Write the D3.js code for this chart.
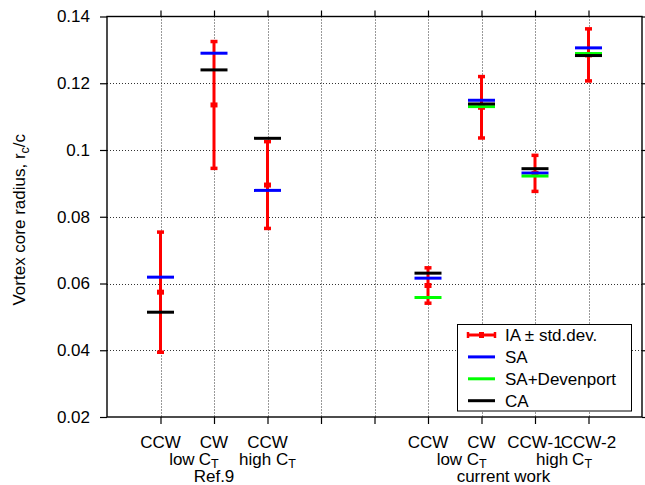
<!DOCTYPE html>
<html>
<head>
<meta charset="utf-8">
<script src="https://cdn.jsdelivr.net/npm/d3@7"></script>
<style>
  html, body { margin: 0; padding: 0; background: #fff; }
  svg { display: block; }
  text { font-family: "Liberation Sans", Arial, Helvetica, sans-serif; fill: #000; }
</style>
</head>
<body>
<svg id="chart" width="645" height="485"></svg>
<script>
// Case slots along the x axis (Ref.9 cases at 1-3, current work at 6-9)
const casePositions = [1, 2, 3, 6, 7, 8, 9];

// Vortex core radius r_c/c per case
const iaMean   = [0.0574, 0.1135, 0.0895, 0.0594, 0.1128, 0.0930, 0.1285];
const iaStd    = [0.0180, 0.0190, 0.0130, 0.0053, 0.0092, 0.0054, 0.0078];
const saValues    = [0.0619, 0.1290, 0.0879, 0.0616, 0.1149, 0.0931, 0.1306];
const saDevValues = [null, null, null, 0.0558, 0.1130, 0.0922, 0.1289];
const caValues    = [0.0514, 0.1240, 0.1035, 0.0631, 0.1138, 0.0944, 0.1283];

// Axis ticks
const xTickValues = [1, 2, 3, 4, 5, 6, 7, 8, 9];
const yTickValues = [0.02, 0.04, 0.06, 0.08, 0.10, 0.12, 0.14];
const yTickLabels = ["0.02", "0.04", "0.06", "0.08", "0.1", "0.12", "0.14"];

// Category label lines under the axis (sub = subscript part)
const labelRow1 = [
  { text: "CCW", at: 1 }, { text: "CW", at: 2 }, { text: "CCW", at: 3 },
  { text: "CCW", at: 6 }, { text: "CW", at: 7 }, { text: "CCW-1", at: 8 }, { text: "CCW-2", at: 9 }
];
const labelRow2 = [
  { text: "low", at: 1.4 }, { text: "C", sub: "T", at: 1.9 }, { text: "high C", sub: "T", at: 3 },
  { text: "low", at: 6.4 }, { text: "C", sub: "T", at: 6.91 },
  { text: "high", at: 8.32 }, { text: "C", sub: "T", at: 8.88 }
];
const labelRow3 = [
  { text: "Ref.9", at: 2 }, { text: "current  work", at: 7.41 }
];

const legendItems = [
  { label: "IA \u00b1 std.dev.", color: "#ff0000", kind: "errbar" },
  { label: "SA", color: "#0000ff", kind: "line" },
  { label: "SA+Devenport", color: "#00ff00", kind: "line" },
  { label: "CA", color: "#000000", kind: "line" }
];

const svg = d3.select("#chart");
const plot = { left: 107, right: 642, top: 16.5, bottom: 417 };
const fontSize = 17;

const x = d3.scaleLinear().domain([0, 10]).range([plot.left, plot.right]);
const y = d3.scaleLinear().domain([0.02, 0.14]).range([plot.bottom, plot.top]);

// Dotted grid
const grid = svg.append("g").attr("stroke", "#333").attr("stroke-width", 1)
  .attr("stroke-dasharray", "1,2");
grid.selectAll("line.gx").data(xTickValues).join("line")
  .attr("x1", d => Math.round(x(d)) + 0.5).attr("x2", d => Math.round(x(d)) + 0.5)
  .attr("y1", plot.top).attr("y2", plot.bottom);
grid.selectAll("line.gy").data(yTickValues.slice(1, -1)).join("line")
  .attr("y1", d => Math.round(y(d)) + 0.5).attr("y2", d => Math.round(y(d)) + 0.5)
  .attr("x1", plot.left).attr("x2", plot.right);

// Axes with outward ticks on all four sides
function styleAxis(g) {
  g.select(".domain").remove();
  g.selectAll(".tick line").attr("stroke", "#000").attr("stroke-width", 1.2);
  g.selectAll(".tick text").style("font-size", fontSize + "px")
    .style("font-family", '"Liberation Sans", Arial, sans-serif').attr("fill", "#000");
}
svg.append("g").attr("transform", `translate(${plot.left},0)`)
  .call(d3.axisLeft(y).tickValues(yTickValues).tickSize(7).tickPadding(10)
    .tickFormat((d, i) => yTickLabels[i]))
  .call(styleAxis);
svg.append("g").attr("transform", `translate(${plot.right},0)`)
  .call(d3.axisRight(y).tickValues(yTickValues).tickSize(6).tickFormat(""))
  .call(styleAxis);
svg.append("g").attr("transform", `translate(0,${plot.bottom})`)
  .call(d3.axisBottom(x).tickValues(xTickValues).tickSize(7).tickFormat(""))
  .call(styleAxis);
svg.append("g").attr("transform", `translate(0,${plot.top})`)
  .call(d3.axisTop(x).tickValues(xTickValues).tickSize(6).tickFormat(""))
  .call(styleAxis);

// Frame
svg.append("rect")
  .attr("x", plot.left).attr("y", plot.top)
  .attr("width", plot.right - plot.left).attr("height", plot.bottom - plot.top)
  .attr("fill", "none").attr("stroke", "#000").attr("stroke-width", 1.4);

// IA error bars (mean +/- std)
const cases = casePositions.map((p, i) => ({
  pos: p, mean: iaMean[i], std: iaStd[i],
  sa: saValues[i], saDev: saDevValues[i], ca: caValues[i]
}));
const red = "#ff0000";
const capHalf = 3.5;
const bars = svg.append("g");
cases.forEach(c => {
  const cx = x(c.pos);
  bars.append("line")
    .attr("x1", cx).attr("x2", cx)
    .attr("y1", y(c.mean + c.std)).attr("y2", y(c.mean - c.std))
    .attr("stroke", red).attr("stroke-width", 3);
  [c.mean + c.std, c.mean - c.std].forEach(v => {
    bars.append("line")
      .attr("x1", cx - capHalf).attr("x2", cx + capHalf)
      .attr("y1", y(v)).attr("y2", y(v))
      .attr("stroke", red).attr("stroke-width", 3.5);
  });
  bars.append("rect")
    .attr("x", cx - 3.5).attr("y", y(c.mean) - 2.5)
    .attr("width", 7).attr("height", 5).attr("fill", red);
});

// Model results as short horizontal lines
const halfW = 13.5;
function drawLevels(key, color) {
  svg.append("g").selectAll("line")
    .data(cases.filter(c => c[key] != null)).join("line")
    .attr("x1", c => x(c.pos) - halfW).attr("x2", c => x(c.pos) + halfW)
    .attr("y1", c => y(c[key])).attr("y2", c => y(c[key]))
    .attr("stroke", color).attr("stroke-width", 3);
}
drawLevels("sa", "#0000ff");
drawLevels("saDev", "#00ff00");
drawLevels("ca", "#000000");

// Category labels
function drawRow(rows, baseline) {
  rows.forEach(r => {
    const t = svg.append("text")
      .attr("x", x(r.at)).attr("y", baseline)
      .attr("text-anchor", "middle")
      .style("font-size", fontSize + "px");
    t.append("tspan").text(r.text);
    if (r.sub) {
      t.append("tspan").attr("dy", 3.5).style("font-size", "12.5px").text(r.sub);
    }
  });
}
drawRow(labelRow1, 448);
drawRow(labelRow2, 464.5);
drawRow(labelRow3, 482);

// Y axis title
const yTitle = svg.append("text")
  .attr("transform", `translate(25,${(plot.top + plot.bottom) / 2 + 3}) rotate(-90)`)
  .attr("text-anchor", "middle")
  .style("font-size", fontSize + "px");
yTitle.append("tspan").text("Vortex core radius, r");
yTitle.append("tspan").attr("dy", 4).style("font-size", "12.5px").text("c");
yTitle.append("tspan").attr("dy", -4).text("/c");

// Legend
const legend = svg.append("g");
legend.append("rect")
  .attr("x", 457.5).attr("y", 324.5).attr("width", 174).attr("height", 86.5)
  .attr("fill", "#fff").attr("stroke", "#000").attr("stroke-width", 1);
const rowY = d3.scalePoint().domain(legendItems.map(d => d.label)).range([335, 400.7]);
legendItems.forEach(it => {
  const yy = rowY(it.label);
  legend.append("line")
    .attr("x1", 468).attr("x2", 495).attr("y1", yy).attr("y2", yy)
    .attr("stroke", it.color).attr("stroke-width", 3);
  if (it.kind === "errbar") {
    [468, 495].forEach(xx => legend.append("line")
      .attr("x1", xx).attr("x2", xx).attr("y1", yy - 3).attr("y2", yy + 3)
      .attr("stroke", it.color).attr("stroke-width", 2.5));
    legend.append("rect").attr("x", 479).attr("y", yy - 3)
      .attr("width", 5).attr("height", 6).attr("fill", it.color);
  }
  legend.append("text")
    .attr("x", 505).attr("y", yy + 6)
    .style("font-size", fontSize + "px")
    .text(it.label);
});
</script>
</body>
</html>
